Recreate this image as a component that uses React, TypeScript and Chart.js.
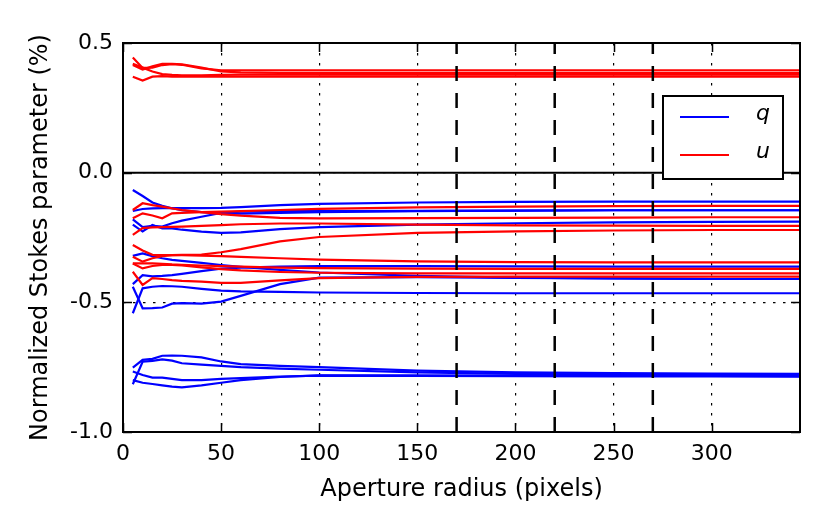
import React, { useEffect, useRef } from 'react';
import { Chart, registerables } from 'chart.js';

Chart.register(...registerables);

// aperture radii (pixels) at which every curve is sampled
const radii = [5, 10, 15, 20, 25, 30, 40, 50, 60, 80, 100, 150, 200, 250, 300, 345];

// q curves (blue)
const qCurves = [
  [-0.067, -0.09, -0.115, -0.128, -0.137, -0.145, -0.152, -0.157, -0.158, -0.155, -0.152, -0.148, -0.146, -0.145, -0.145, -0.145],
  [-0.148, -0.14, -0.138, -0.137, -0.137, -0.137, -0.137, -0.136, -0.133, -0.125, -0.12, -0.115, -0.113, -0.112, -0.112, -0.112],
  [-0.18, -0.21, -0.205, -0.208, -0.195, -0.185, -0.17, -0.155, -0.15, -0.148, -0.148, -0.147, -0.146, -0.145, -0.145, -0.145],
  [-0.2, -0.227, -0.202, -0.215, -0.215, -0.22, -0.227, -0.232, -0.23, -0.218, -0.21, -0.2, -0.195, -0.192, -0.19, -0.189],
  [-0.321, -0.311, -0.322, -0.33, -0.336, -0.34, -0.348, -0.356, -0.363, -0.375, -0.385, -0.398, -0.405, -0.408, -0.41, -0.41],
  [-0.43, -0.395, -0.4, -0.398, -0.395, -0.39, -0.38, -0.37, -0.366, -0.362, -0.36, -0.36, -0.361, -0.362, -0.362, -0.362],
  [-0.542, -0.446, -0.44, -0.437, -0.438, -0.44, -0.448, -0.455, -0.458, -0.46, -0.462, -0.464, -0.465, -0.465, -0.465, -0.465],
  [-0.44, -0.523, -0.522, -0.52, -0.505, -0.503, -0.505, -0.497, -0.475, -0.43, -0.405, -0.403, -0.406, -0.408, -0.41, -0.41],
  [-0.752, -0.722, -0.718, -0.706, -0.705, -0.706, -0.712, -0.728, -0.738, -0.745, -0.75, -0.763, -0.77, -0.773, -0.775, -0.776],
  [-0.816, -0.729, -0.726, -0.72, -0.725, -0.735, -0.74, -0.745, -0.75, -0.756, -0.76, -0.77, -0.776, -0.779, -0.78, -0.781],
  [-0.767, -0.78, -0.79, -0.79, -0.795, -0.8, -0.8, -0.795, -0.792, -0.786, -0.783, -0.784, -0.785, -0.786, -0.786, -0.787],
  [-0.8, -0.81, -0.815, -0.82, -0.825, -0.828, -0.82, -0.81, -0.8, -0.788, -0.782, -0.782, -0.783, -0.784, -0.784, -0.785],
];

// u curves (red)
const uCurves = [
  [0.444, 0.404, 0.405, 0.415, 0.418, 0.416, 0.402, 0.395, 0.395, 0.395, 0.395, 0.395, 0.395, 0.395, 0.395, 0.395],
  [0.415, 0.398, 0.41, 0.42, 0.42, 0.418, 0.405, 0.39, 0.387, 0.385, 0.385, 0.385, 0.385, 0.385, 0.385, 0.385],
  [0.42, 0.405, 0.39, 0.38, 0.377, 0.375, 0.375, 0.377, 0.378, 0.378, 0.378, 0.378, 0.378, 0.378, 0.378, 0.378],
  [0.37, 0.355, 0.37, 0.372, 0.37, 0.37, 0.37, 0.37, 0.37, 0.37, 0.37, 0.37, 0.37, 0.37, 0.37, 0.37],
  [-0.144, -0.118, -0.125, -0.131, -0.138, -0.144, -0.152, -0.16, -0.166, -0.174, -0.176, -0.175, -0.174, -0.173, -0.172, -0.172],
  [-0.176, -0.157, -0.165, -0.176, -0.157, -0.155, -0.152, -0.15, -0.148, -0.144, -0.14, -0.134, -0.131, -0.129, -0.128, -0.128],
  [-0.24, -0.214, -0.211, -0.21, -0.209, -0.208, -0.205, -0.202, -0.199, -0.196, -0.196, -0.2, -0.203, -0.204, -0.205, -0.205],
  [-0.279, -0.3, -0.317, -0.318, -0.318, -0.317, -0.316, -0.307, -0.295, -0.265, -0.248, -0.232, -0.226, -0.223, -0.221, -0.221],
  [-0.324, -0.343, -0.33, -0.322, -0.318, -0.318, -0.32, -0.322, -0.325, -0.33, -0.335, -0.342, -0.345, -0.346, -0.346, -0.346],
  [-0.35, -0.35, -0.35, -0.352, -0.354, -0.355, -0.358, -0.36, -0.362, -0.366, -0.368, -0.37, -0.371, -0.371, -0.371, -0.371],
  [-0.382, -0.433, -0.407, -0.41, -0.414, -0.417, -0.42, -0.425, -0.425, -0.415, -0.407, -0.402, -0.401, -0.401, -0.401, -0.401],
  [-0.35, -0.369, -0.36, -0.356, -0.356, -0.358, -0.365, -0.372, -0.377, -0.383, -0.386, -0.388, -0.388, -0.388, -0.388, -0.388],
];

// vertical dashed markers
const markerRadii = [170, 220, 270];

const xTicks = [0, 50, 100, 150, 200, 250, 300];
const yTicks = [0.5, 0.0, -0.5, -1.0];

const legendItems = [
  { label: 'q', color: '#0000ff' },
  { label: 'u', color: '#ff0000' },
];

const FONT = 'DejaVu Sans';

const framePlugin = {
  id: 'frame',
  afterDraw(chart: any) {
    const { ctx, chartArea: a, scales } = chart;
    ctx.save();
    ctx.strokeStyle = '#000';

    // inward ticks on all four sides
    ctx.lineWidth = 1.5;
    ctx.beginPath();
    scales.x.ticks.forEach((t: any) => {
      const px = Math.round(scales.x.getPixelForValue(t.value)) + 0.5;
      ctx.moveTo(px, a.bottom);
      ctx.lineTo(px, a.bottom - 9);
      ctx.moveTo(px, a.top);
      ctx.lineTo(px, a.top + 9);
    });
    scales.y.ticks.forEach((t: any) => {
      const py = Math.round(scales.y.getPixelForValue(t.value)) + 0.5;
      ctx.moveTo(a.left, py);
      ctx.lineTo(a.left + 9, py);
      ctx.moveTo(a.right, py);
      ctx.lineTo(a.right - 9, py);
    });
    ctx.stroke();

    ctx.lineWidth = 2;
    ctx.strokeRect(a.left, a.top, a.right - a.left, a.bottom - a.top);

    // legend box
    const w = 120;
    const h = 83;
    const bx = a.right - 17 - w;
    const by = a.top + 53;
    ctx.fillStyle = '#fff';
    ctx.fillRect(bx, by, w, h);
    ctx.lineWidth = 2;
    ctx.strokeRect(bx, by, w, h);
    legendItems.forEach((item, i) => {
      const y = by + 21 + i * 38;
      ctx.strokeStyle = item.color;
      ctx.lineWidth = 2.2;
      ctx.beginPath();
      ctx.moveTo(bx + 17, y);
      ctx.lineTo(bx + 66, y);
      ctx.stroke();
      ctx.fillStyle = '#000';
      ctx.font = `italic 22px "${FONT}"`;
      ctx.textAlign = 'left';
      ctx.textBaseline = 'middle';
      ctx.fillText(item.label, bx + 93, y - 3);
    });
    ctx.restore();
  },
};

const App: React.FC = () => {
  const chartRef = useRef<HTMLCanvasElement | null>(null);

  useEffect(() => {
    if (!chartRef.current) return;

    const toPoints = (vals: number[]) => vals.map((v, i) => ({ x: radii[i], y: v }));

    const datasets: any[] = [];
    markerRadii.forEach((r) => {
      datasets.push({
        data: [{ x: r, y: -1 }, { x: r, y: 0.5 }],
        borderColor: '#000',
        borderWidth: 2.5,
        borderDash: [15, 12],
        order: 0,
      });
    });
    datasets.push({
      data: [{ x: 0, y: 0 }, { x: 345, y: 0 }],
      borderColor: '#000',
      borderWidth: 2,
      order: 1,
    });
    uCurves.forEach((c) => {
      datasets.push({ data: toPoints(c), borderColor: '#ff0000', borderWidth: 2.2, order: 2 });
    });
    qCurves.forEach((c) => {
      datasets.push({ data: toPoints(c), borderColor: '#0000ff', borderWidth: 2.2, order: 3 });
    });

    const tickFont = { family: FONT, size: 22 };
    const titleFont = { family: FONT, size: 24 };

    const chart = new Chart(chartRef.current, {
      type: 'line',
      data: { datasets },
      options: {
        animation: false,
        responsive: true,
        maintainAspectRatio: false,
        layout: { padding: { top: 43, right: 31, left: 0, bottom: 0 } },
        elements: {
          point: { radius: 0, hoverRadius: 0 },
          line: { tension: 0, fill: false },
        },
        plugins: {
          legend: { display: false },
          tooltip: { enabled: false },
        },
        scales: {
          x: {
            type: 'linear',
            min: 0,
            max: 345,
            afterBuildTicks: (s: any) => {
              s.ticks = xTicks.map((v) => ({ value: v }));
            },
            afterFit: (s: any) => {
              s.height = 99;
            },
            grid: { color: '#000', lineWidth: 1.2, drawTicks: false },
            border: { display: false, dash: [2.5, 7.5] },
            ticks: { padding: 9, color: '#000', font: tickFont, maxRotation: 0 },
            title: {
              display: true,
              text: 'Aperture radius (pixels)',
              color: '#000',
              font: titleFont,
              padding: { top: 0, bottom: 27 },
            },
          },
          y: {
            type: 'linear',
            min: -1,
            max: 0.5,
            afterBuildTicks: (s: any) => {
              s.ticks = yTicks.map((v) => ({ value: v }));
            },
            afterFit: (s: any) => {
              s.width = 123;
            },
            grid: { color: '#000', lineWidth: 1.2, drawTicks: false },
            border: { display: false, dash: [2.5, 7.5] },
            ticks: {
              padding: 10,
              color: '#000',
              font: tickFont,
              callback: (v: any) => Number(v).toFixed(1),
            },
            title: {
              display: true,
              text: 'Normalized Stokes parameter (%)',
              color: '#000',
              font: titleFont,
              padding: { top: 26, bottom: 0 },
            },
          },
        },
      },
      plugins: [framePlugin],
    });

    return () => {
      chart.destroy();
    };
  }, []);

  return (
    <div style={{ position: 'absolute', left: 0, top: 0, width: 831, height: 531, background: '#fff' }}>
      <canvas ref={chartRef} />
    </div>
  );
};

export default App;
